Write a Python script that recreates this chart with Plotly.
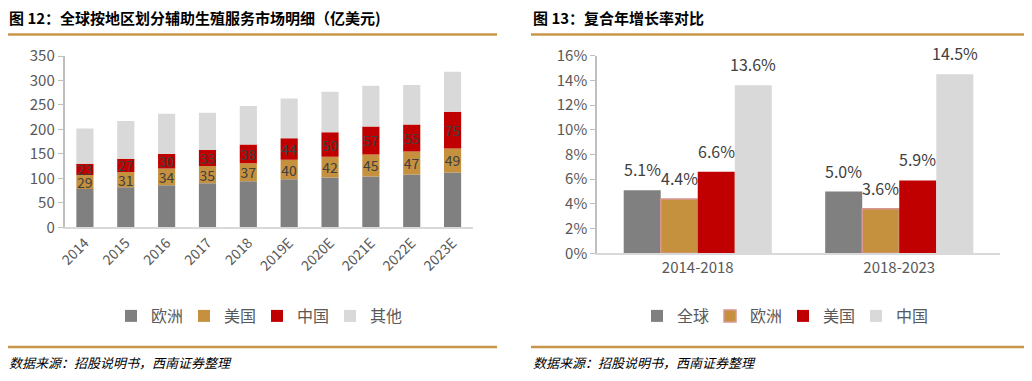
import plotly.graph_objects as go

# ---------------- data ----------------
years = ["2014", "2015", "2016", "2017", "2018", "2019E", "2020E", "2021E", "2022E", "2023E"]
europe = [78, 82, 86, 90, 94, 98, 102, 104, 108, 112]
usa = [29, 31, 34, 35, 37, 40, 42, 45, 47, 49]
china = [23, 27, 30, 33, 38, 44, 50, 57, 55, 75]
other = [72, 77, 82, 76, 79, 81, 83, 83, 81, 82]

periods = ["2014-2018", "2018-2023"]
cagr_global = [5.1, 5.0]
cagr_europe = [4.4, 3.6]
cagr_usa = [6.6, 5.9]
cagr_china = [13.6, 14.5]

left_title = "图 12：全球按地区划分辅助生殖服务市场明细（亿美元)"
right_title = "图 13：复合年增长率对比"
source = "数据来源：招股说明书，西南证券整理"

# ---------------- style ----------------
PAGE_W, PAGE_H = 1032, 381
OFF = 8  # default body margin of the page
W, H = PAGE_W - OFF, PAGE_H - OFF
FONT = "Noto Sans CJK SC"
GRAY, ORANGE, RED, LIGHT = "#808080", "#C5913F", "#C00000", "#D9D9D9"
TXT = "#595959"
LBL = "#404040"
GOLD = "#C8964A"


def px_x(x):
    return (x - OFF) / W


def px_y(y):
    return (H - (y - OFF)) / H


fig = go.Figure()

# left stacked bars (stacked via explicit bases, so the right panel can be grouped)
left_series = [
    ("欧洲", europe, GRAY, False),
    ("美国", usa, ORANGE, True),
    ("中国", china, RED, True),
    ("其他", other, LIGHT, False),
]
cum = [0] * len(years)
for name, vals, col, show_text in left_series:
    fig.add_trace(go.Bar(
        x=years, y=vals, base=list(cum), name=name, width=0.42,
        marker=dict(color=col, line=dict(width=0)),
        xaxis="x", yaxis="y", legend="legend", offsetgroup="L",
        text=[str(v) for v in vals] if show_text else None,
        textposition="inside" if show_text else "none",
        insidetextanchor="middle", textangle=0, constraintext="none",
        textfont=dict(color=LBL, size=14, family=FONT),
        hoverinfo="x+y+name",
    ))
    cum = [c + v for c, v in zip(cum, vals)]

# right grouped bars
right_series = [
    ("全球", cagr_global, GRAY, None),
    ("欧洲", cagr_europe, ORANGE, "#D99694"),
    ("美国", cagr_usa, RED, None),
    ("中国", cagr_china, LIGHT, None),
]
for i, (name, vals, col, lc) in enumerate(right_series):
    fig.add_trace(go.Bar(
        x=periods, y=vals, name=name,
        marker=dict(color=col, line=dict(color=lc if lc else col, width=1.5 if lc else 0)),
        xaxis="x2", yaxis="y2", legend="legend2", offsetgroup=f"R{i}",
        hoverinfo="x+y+name",
    ))

right_gap = 0.265
right_dom = (597, 1000)
cat_w = (right_dom[1] - right_dom[0]) / len(periods)
bar_w = cat_w * (1 - right_gap) / len(right_series)

annotations = []
for i, (name, vals, col, lc) in enumerate(right_series):
    for p, v in zip(periods, vals):
        annotations.append(dict(
            x=p, y=v, xref="x2", yref="y2", text=f"{v:.1f}%", showarrow=False,
            xshift=(i - (len(right_series) - 1) / 2) * bar_w, yshift=7, yanchor="bottom",
            font=dict(size=16, color=LBL, family=FONT),
        ))

# titles and source
for x0, t in [(7, left_title), (531, right_title)]:
    annotations.append(dict(
        x=px_x(x0), y=px_y(17), xref="paper", yref="paper", xanchor="left", yanchor="middle",
        text=f"<b>{t}</b>", showarrow=False, font=dict(size=15, color="#000000", family=FONT),
    ))
for x0 in [7, 531]:
    annotations.append(dict(
        x=px_x(x0), y=px_y(362), xref="paper", yref="paper", xanchor="left", yanchor="middle",
        text=source, showarrow=False,
        font=dict(size=13, color="#000000", family=FONT, style="italic"),
    ))

shapes = []
for x0, x1 in [(6, 497), (531, 1026)]:
    for yy in [34.5, 347]:
        shapes.append(dict(type="line", xref="paper", yref="paper",
                           x0=px_x(x0), x1=px_x(x1), y0=px_y(yy), y1=px_y(yy),
                           line=dict(color=GOLD, width=2.5)))

legend_common = dict(orientation="h", yanchor="middle", font=dict(size=16, color=TXT, family=FONT),
                     itemwidth=30, entrywidth=28, entrywidthmode="pixels",
                     traceorder="normal", bgcolor="rgba(0,0,0,0)")

fig.update_layout(
    width=W, height=H, margin=dict(l=0, r=0, t=0, b=0, autoexpand=False),
    paper_bgcolor="white", plot_bgcolor="white",
    font=dict(family=FONT, color=TXT),
    barmode="group",
    showlegend=True,
    xaxis=dict(domain=[px_x(64.5), px_x(473)], anchor="y", showgrid=False, automargin=False,
               showline=True, linecolor=LIGHT, linewidth=2, ticks="",
               tickangle=-45, tickfont=dict(size=14, color=TXT, family=FONT)),
    yaxis=dict(domain=[px_y(227.3), px_y(56)], anchor="x", range=[0, 350], dtick=50,
               automargin=False,
               showgrid=False, showline=True, linecolor="#BFBFBF", linewidth=1.5,
               ticks="outside", ticklen=5, tickcolor="#BFBFBF",
               tickfont=dict(size=15, color=TXT, family=FONT), zeroline=False),
    xaxis2=dict(domain=[px_x(right_dom[0]), px_x(right_dom[1])], anchor="y2", showgrid=False,
                automargin=False,
                showline=True, linecolor=LIGHT, linewidth=2, ticks="",
                tickfont=dict(size=15, color=TXT, family=FONT)),
    yaxis2=dict(domain=[px_y(253.3), px_y(55.7)], anchor="x2", range=[0, 16], dtick=2,
                automargin=False,
                ticksuffix="%", showgrid=False, showline=True, linecolor="#BFBFBF",
                linewidth=1.5, ticks="outside", ticklen=5, tickcolor="#BFBFBF",
                tickfont=dict(size=15, color=TXT, family=FONT), zeroline=False),
    bargap=0.265,
    legend=dict(x=px_x(257), xanchor="center", y=px_y(316), **legend_common),
    legend2=dict(x=px_x(783), xanchor="center", y=px_y(316), **legend_common),
    annotations=annotations,
    shapes=shapes,
)

fig.write_html("out.html")
